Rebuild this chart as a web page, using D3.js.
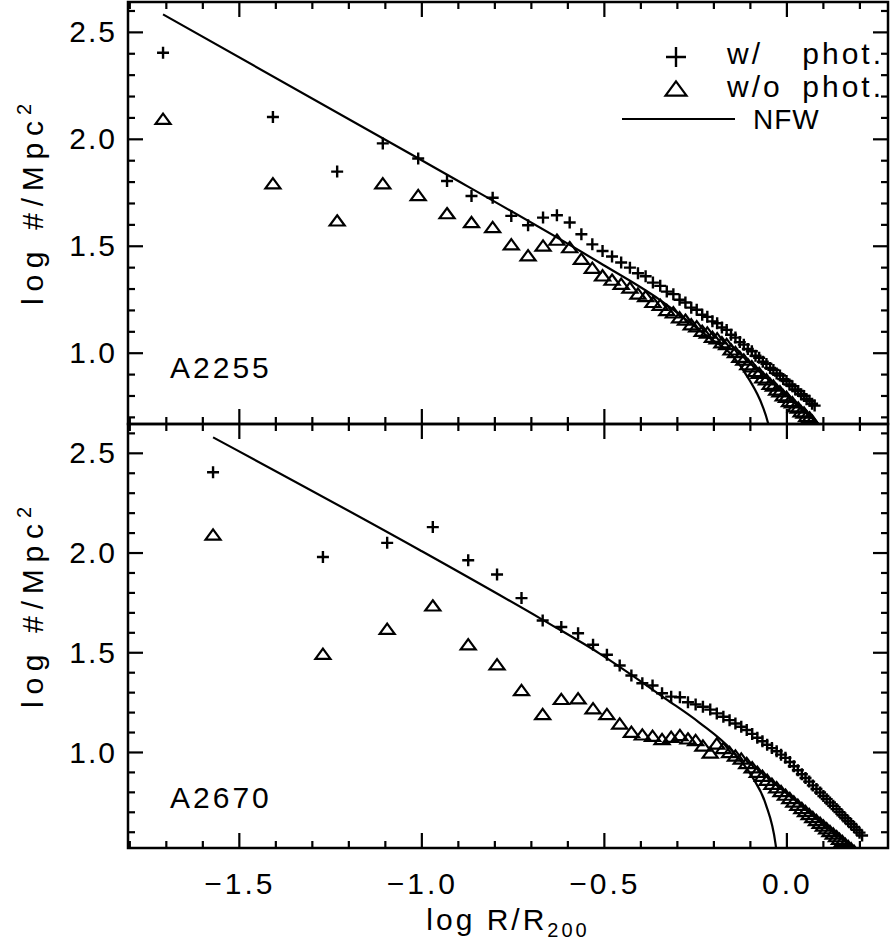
<!DOCTYPE html>
<html>
<head>
<meta charset="utf-8">
<script src="https://cdn.jsdelivr.net/npm/d3@7"></script>
<style>
  html, body { margin: 0; padding: 0; background: #fff; }
  svg text { font-family: "Liberation Sans", Arial, sans-serif; fill: #000; }
</style>
</head>
<body>
<svg id="chart" width="890" height="947"></svg>
<script>
// ---------- data (log R/R200, log #/Mpc^2) ----------
const topX = [-1.709,-1.408,-1.232,-1.107,-1.010,-0.931,-0.864,-0.806,-0.755,-0.709,
  -0.668,-0.630,-0.595,-0.563,-0.533,-0.505,-0.479,-0.454,-0.430,-0.408,
  -0.387,-0.367,-0.347,-0.329,-0.311,-0.294,-0.278,-0.262,-0.247,-0.232,
  -0.218,-0.204,-0.191,-0.178,-0.165,-0.153,-0.141,-0.129,-0.118,-0.107,
  -0.096,-0.086,-0.076,-0.066,-0.056,-0.046,-0.037,-0.028,-0.019,-0.010,
  -0.001,0.007,0.015,0.023,0.031,0.039,0.047,0.054,0.062,0.069,0.076];
const topWithPhot = [2.405,2.104,1.849,1.981,1.910,1.805,1.735,1.727,1.642,1.598,
  1.634,1.645,1.611,1.556,1.509,1.478,1.452,1.424,1.400,1.374,
  1.360,1.330,1.315,1.288,1.276,1.250,1.237,1.213,1.203,1.180,
  1.170,1.149,1.140,1.120,1.109,1.086,1.073,1.052,1.040,1.020,
  1.009,0.988,0.979,0.960,0.950,0.931,0.922,0.905,0.896,0.879,
  0.870,0.854,0.846,0.830,0.823,0.808,0.800,0.785,0.778,0.764,0.755];
const topWithoutPhot = [2.101,1.800,1.626,1.800,1.745,1.660,1.618,1.595,1.514,1.463,
  1.509,1.536,1.501,1.447,1.405,1.369,1.349,1.330,1.312,1.284,
  1.272,1.245,1.232,1.207,1.196,1.173,1.162,1.140,1.131,1.110,
  1.102,1.082,1.075,1.056,1.048,1.023,1.011,0.988,0.976,0.954,
  0.944,0.922,0.913,0.892,0.883,0.862,0.854,0.835,0.827,0.808,
  0.801,0.782,0.776,0.757,0.751,0.734,0.728,0.711,0.705,0.691];
const nfwTopX = [-1.709,-1.009,-0.514,-0.350,-0.213,-0.149,-0.104,-0.067,-0.052,-0.040];
const nfwTopY = [2.584,1.910,1.424,1.252,1.073,0.988,0.879,0.754,0.676,0.580];

const botX = [-1.572,-1.271,-1.095,-0.970,-0.873,-0.794,-0.727,-0.669,-0.618,-0.572,
  -0.531,-0.493,-0.458,-0.426,-0.396,-0.368,-0.342,-0.317,-0.293,-0.271,
  -0.250,-0.230,-0.210,-0.192,-0.174,-0.157,-0.141,-0.125,-0.110,-0.095,
  -0.081,-0.067,-0.054,-0.041,-0.028,-0.016,-0.004,0.008,0.019,0.030,
  0.041,0.051,0.061,0.071,0.081,0.091,0.100,0.109,0.118,0.127,
  0.136,0.144,0.152,0.160,0.168,0.176,0.184,0.191,0.199,0.206];
const botWithPhot = [2.405,1.980,2.051,2.130,1.964,1.892,1.774,1.662,1.629,1.598,
  1.540,1.490,1.436,1.386,1.347,1.336,1.297,1.280,1.277,1.252,
  1.241,1.229,1.215,1.196,1.179,1.162,1.145,1.129,1.113,1.093,
  1.074,1.056,1.039,1.022,1.006,0.989,0.973,0.952,0.931,0.911,
  0.891,0.872,0.854,0.835,0.817,0.799,0.782,0.766,0.749,0.733,
  0.716,0.701,0.685,0.670,0.655,0.641,0.626,0.612,0.598,0.584];
const botWithoutPhot = [2.098,1.500,1.626,1.743,1.548,1.448,1.319,1.198,1.274,1.277,
  1.227,1.198,1.151,1.109,1.096,1.089,1.073,1.084,1.093,1.076,
  1.068,1.040,1.005,1.050,1.028,1.008,0.990,0.975,0.953,0.931,
  0.909,0.889,0.869,0.849,0.831,0.812,0.794,0.777,0.760,0.743,
  0.727,0.712,0.697,0.682,0.667,0.653,0.639,0.625,0.612,0.599,
  0.586,0.573,0.561,0.548,0.536,0.525,0.513];
const nfwBotX = [-1.572,-1.005,-0.669,-0.514,-0.332,-0.240,-0.150,-0.094,-0.058,-0.031,-0.022];
const nfwBotY = [2.580,2.014,1.665,1.497,1.269,1.150,1.009,0.875,0.741,0.540,0.400];

const xMajorTicks = [-1.5,-1.0,-0.5,0.0];
const xTickLabels = ["\u22121.5","\u22121.0","\u22120.5","0.0"];
const yMajorTicks = [1.0,1.5,2.0,2.5];
const yTickLabels = ["1.0","1.5","2.0","2.5"];
const panelNames = ["A2255","A2670"];
const legendPrefix = ["w/","w/o"];
const legendSuffix = ["phot.","phot."];
const legendLine = "NFW";

// ---------- layout ----------
const svg = d3.select("#chart");
const L = 128, R = 888;
const x = d3.scaleLinear().domain([-1.805, 0.277]).range([L, R]);

const panels = [
  { top: 2, bottom: 424, y: d3.scaleLinear().domain([0.669, 2.642]).range([424, 2]),
    xs: topX, plus: topWithPhot, tri: topWithoutPhot, nx: nfwTopX, ny: nfwTopY,
    name: panelNames[0], nameY: 378, labelsX: false, titleStart: 305 },
  { top: 424, bottom: 848, y: d3.scaleLinear().domain([0.521, 2.647]).range([848, 424]),
    xs: botX, plus: botWithPhot, tri: botWithoutPhot, nx: nfwBotX, ny: nfwBotY,
    name: panelNames[1], nameY: 808, labelsX: true, titleStart: 708 }
];

const isMajor = (d, arr) => arr.some(m => Math.abs(m - d) < 1e-9);
const allX = d3.range(-18, 3).map(d => d / 10);
const font = 30;

function plusPath(s) { return `M${-s},0H${s}M0,${-s}V${s}`; }
function triPath(s) { const h = s * 0.87; return `M0,${-h * 0.62}L${s},${h * 0.95}L${-s},${h * 0.95}Z`; }

const defs = svg.append("defs");

panels.forEach((p, idx) => {
  const g = svg.append("g");
  const clipId = "clip" + idx;
  defs.append("clipPath").attr("id", clipId)
    .append("rect").attr("x", L).attr("y", p.top).attr("width", R - L).attr("height", p.bottom - p.top);

  const plot = g.append("g").attr("clip-path", `url(#${clipId})`);

  // NFW line
  const nfw = p.nx.map((v, i) => [v, p.ny[i]]);
  plot.append("path").datum(nfw)
    .attr("d", d3.line().x(d => x(d[0])).y(d => p.y(d[1])).curve(d3.curveMonotoneX))
    .attr("fill", "none").attr("stroke", "#000").attr("stroke-width", 2.2);

  // triangles (w/o phot.)
  plot.selectAll(".tri").data(p.tri.map((v, i) => [p.xs[i], v])).enter().append("path")
    .attr("d", triPath(7.5))
    .attr("transform", d => `translate(${x(d[0])},${p.y(d[1])})`)
    .attr("fill", "none").attr("stroke", "#000").attr("stroke-width", 2.2);

  // plus (w/ phot.)
  plot.selectAll(".plus").data(p.plus.map((v, i) => [p.xs[i], v])).enter().append("path")
    .attr("d", plusPath(6))
    .attr("transform", d => `translate(${x(d[0])},${p.y(d[1])})`)
    .attr("fill", "none").attr("stroke", "#000").attr("stroke-width", 2.4);

  // ---- ticks (inward on all four sides) ----
  const allY = d3.range(Math.ceil(p.y.domain()[0] * 10), Math.floor(p.y.domain()[1] * 10) + 1).map(d => d / 10);
  const tk = g.append("g");
  const addTick = (x1, y1, x2, y2) => tk.append("line")
    .attr("x1", x1).attr("y1", y1).attr("x2", x2).attr("y2", y2)
    .attr("stroke", "#000").attr("stroke-width", 2.2);
  allX.forEach(v => {
    const len = isMajor(v, xMajorTicks) ? 15 : 7;
    const xx = x(v);
    addTick(xx, p.bottom, xx, p.bottom - len);
    addTick(xx, p.top, xx, p.top + len);
  });
  allY.forEach(v => {
    const len = isMajor(v, yMajorTicks) ? 15 : 7;
    const yy = p.y(v);
    addTick(L, yy, L + len, yy);
    addTick(R, yy, R - len, yy);
  });

  // ---- labels through d3 axes (tick lines hidden) ----
  const yAx = g.append("g").attr("transform", `translate(${L},0)`)
    .call(d3.axisLeft(p.y).tickValues(yMajorTicks).tickSize(0).tickPadding(11)
      .tickFormat((d, i) => yTickLabels[i]));
  yAx.select(".domain").remove();
  yAx.selectAll("line").remove();
  yAx.selectAll("text").attr("font-size", font).attr("letter-spacing", "2px")
    .attr("font-family", "Liberation Sans, Arial, sans-serif").attr("fill", "#000");

  if (p.labelsX) {
    const xAx = g.append("g").attr("transform", `translate(0,${p.bottom})`)
      .call(d3.axisBottom(x).tickValues(xMajorTicks).tickSize(0).tickPadding(25)
        .tickFormat((d, i) => xTickLabels[i]));
    xAx.select(".domain").remove();
    xAx.selectAll("line").remove();
    xAx.selectAll("text").attr("font-size", font).attr("letter-spacing", "3px")
      .attr("font-family", "Liberation Sans, Arial, sans-serif").attr("fill", "#000");
  }

  // frame
  g.append("rect").attr("x", L).attr("y", p.top).attr("width", R - L).attr("height", p.bottom - p.top)
    .attr("fill", "none").attr("stroke", "#000").attr("stroke-width", 2.5);

  // panel name
  g.append("text").attr("x", 170).attr("y", p.nameY).attr("font-size", font)
    .attr("letter-spacing", "3px").text(p.name);

  // y title
  g.append("text").attr("transform", `translate(43,${p.titleStart}) rotate(-90)`)
    .attr("font-size", font).attr("textLength", 184).attr("lengthAdjust", "spacing")
    .text("log #/Mpc");
  g.append("text").attr("transform", `translate(31,${p.titleStart - 190}) rotate(-90)`)
    .attr("font-size", 20).text("2");
});

// x title
const xt = svg.append("text").attr("x", 508).attr("y", 930).attr("text-anchor", "middle")
  .attr("font-size", font).attr("letter-spacing", "3px");
xt.append("tspan").text("log R/R");
xt.append("tspan").attr("font-size", 20).attr("dy", 7).text("200");

// legend (top panel)
const lg = svg.append("g");
lg.append("path").attr("d", plusPath(10)).attr("transform", "translate(676,57)")
  .attr("fill", "none").attr("stroke", "#000").attr("stroke-width", 2.4);
lg.append("path").attr("d", triPath(10.5)).attr("transform", "translate(676,87)")
  .attr("fill", "none").attr("stroke", "#000").attr("stroke-width", 2.2);
lg.append("line").attr("x1", 622).attr("x2", 735).attr("y1", 119).attr("y2", 119)
  .attr("stroke", "#000").attr("stroke-width", 2.2);
[64, 97].forEach((yy, i) => {
  lg.append("text").attr("x", 727).attr("y", yy).attr("font-size", font)
    .attr("letter-spacing", "3px").text(legendPrefix[i]);
  lg.append("text").attr("x", 884).attr("y", yy).attr("font-size", font)
    .attr("text-anchor", "end").attr("letter-spacing", "3px").text(legendSuffix[i]);
});
lg.append("text").attr("x", 753).attr("y", 129).attr("font-size", 28)
  .attr("letter-spacing", "1px").text(legendLine);
</script>
</body>
</html>
